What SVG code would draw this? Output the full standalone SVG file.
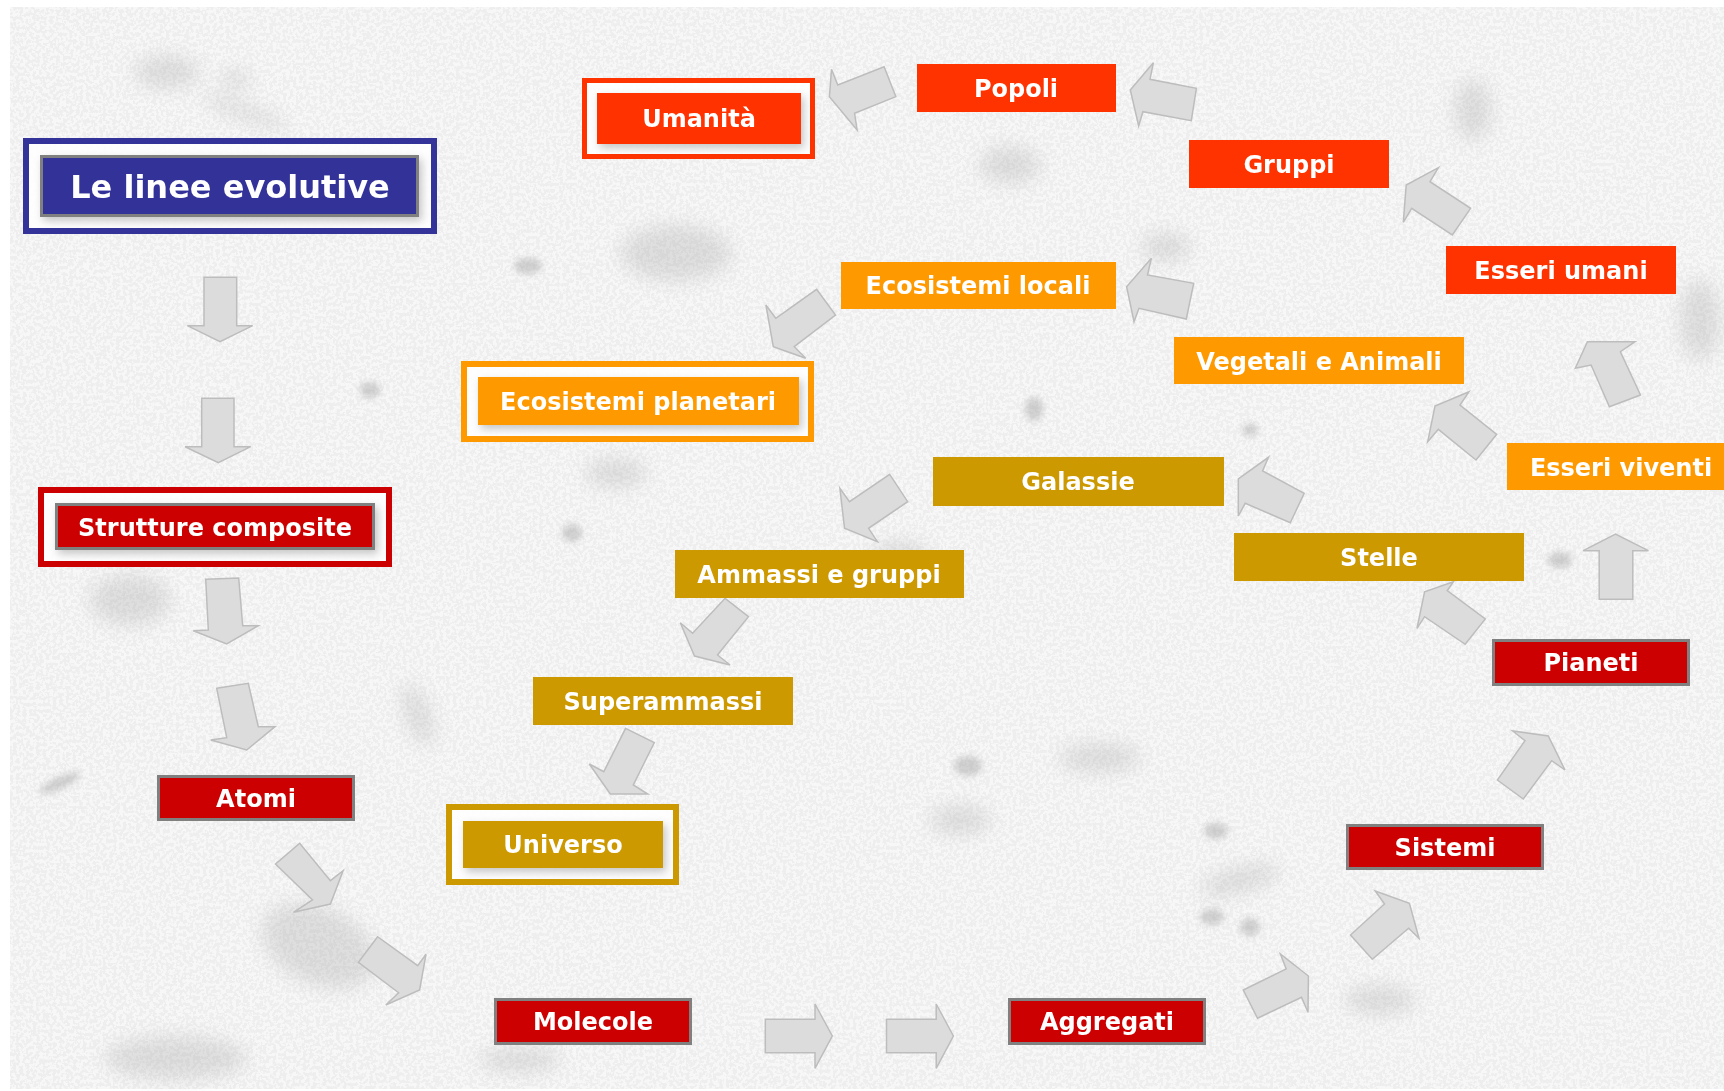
<svg xmlns="http://www.w3.org/2000/svg" width="1724" height="1091" viewBox="0 0 1724 1091">
<defs>
<style>
.lbl{font-family:"DejaVu Sans","Verdana","Liberation Sans",sans-serif;font-weight:bold;font-size:24px;fill:#ffffff;text-anchor:middle}
.ttl{font-size:32px}
.arr{fill:#dcdcdc;stroke:#bdbdbd;stroke-width:1.5;stroke-linejoin:miter}
.red{fill:#cc0000;stroke:#808080;stroke-width:3}
.gold{fill:#cc9900}
.org{fill:#ff9900}
.ored{fill:#ff3300}
.blob{fill:#8a8a8a}
</style>
<filter id="blur" x="-50%" y="-50%" width="200%" height="200%"><feGaussianBlur stdDeviation="9"/></filter>
<filter id="blur2" x="-50%" y="-50%" width="200%" height="200%"><feGaussianBlur stdDeviation="3"/></filter>
<filter id="shadow" x="-10%" y="-20%" width="130%" height="160%"><feDropShadow dx="3" dy="4" stdDeviation="4" flood-color="#000" flood-opacity="0.22"/></filter>
<filter id="speck" x="0" y="0" width="100%" height="100%">
<feTurbulence type="fractalNoise" baseFrequency="0.3" numOctaves="2" seed="7"/>
<feColorMatrix type="matrix" values="0 0 0 0 0.6  0 0 0 0 0.6  0 0 0 0 0.6  0 0 0 -14 7.6"/>
</filter>
</defs>
<rect x="0" y="0" width="1724" height="1091" fill="#ffffff"/>
<g id="background">
<rect x="10" y="7" width="1714" height="1082" fill="#f7f7f7"/>
<rect x="10" y="7" width="1714" height="1082" filter="url(#speck)" opacity="0.18"/>
<g filter="url(#blur)" opacity="0.22">
<ellipse class="blob" cx="167" cy="72" rx="32" ry="16"/>
<ellipse class="blob" cx="236" cy="80" rx="14" ry="9"/>
<ellipse class="blob" cx="245" cy="112" rx="45" ry="7" transform="rotate(20 245 112)"/>
<ellipse class="blob" cx="676" cy="253" rx="55" ry="28"/>
<ellipse class="blob" cx="1166" cy="247" rx="24" ry="14"/>
<ellipse class="blob" cx="1473" cy="110" rx="18" ry="30"/>
<ellipse class="blob" cx="616" cy="473" rx="30" ry="14"/>
<ellipse class="blob" cx="319" cy="946" rx="60" ry="38" transform="rotate(25 319 946)"/>
<ellipse class="blob" cx="176" cy="1058" rx="70" ry="22"/>
<ellipse class="blob" cx="418" cy="715" rx="12" ry="32" transform="rotate(-20 418 715)"/>
<ellipse class="blob" cx="1100" cy="758" rx="40" ry="14"/>
<ellipse class="blob" cx="960" cy="820" rx="30" ry="14"/>
<ellipse class="blob" cx="1700" cy="320" rx="20" ry="40"/>
<ellipse class="blob" cx="1240" cy="880" rx="40" ry="12" transform="rotate(-15 1240 880)"/>
<ellipse class="blob" cx="520" cy="1060" rx="40" ry="12"/>
<ellipse class="blob" cx="1380" cy="1000" rx="35" ry="14"/>
<ellipse class="blob" cx="130" cy="600" rx="40" ry="25"/>
<ellipse class="blob" cx="900" cy="560" rx="30" ry="18"/>
<ellipse class="blob" cx="1010" cy="165" rx="30" ry="18"/>
</g>
<g filter="url(#blur2)" opacity="0.35">
<ellipse class="blob" cx="528" cy="266" rx="14" ry="8"/>
<ellipse class="blob" cx="1034" cy="409" rx="9" ry="12"/>
<ellipse class="blob" cx="572" cy="533" rx="10" ry="9"/>
<ellipse class="blob" cx="968" cy="766" rx="14" ry="10"/>
<ellipse class="blob" cx="1216" cy="831" rx="12" ry="8"/>
<ellipse class="blob" cx="1212" cy="917" rx="12" ry="8"/>
<ellipse class="blob" cx="1250" cy="927" rx="10" ry="9"/>
<ellipse class="blob" cx="60" cy="783" rx="22" ry="6" transform="rotate(-25 60 783)"/>
<ellipse class="blob" cx="370" cy="390" rx="10" ry="8"/>
<ellipse class="blob" cx="1250" cy="430" rx="8" ry="6"/>
<ellipse class="blob" cx="1560" cy="560" rx="12" ry="8"/>
</g>
</g>
<g id="connectors">
<polygon class="arr" points="204,277.3 236.7,277.3 236.7,325.7 252.7,325.7 220,341.7 187.3,325.7 204,325.7"/>
<polygon class="arr" points="201.7,398.3 234,398.3 234,446.7 250.7,446.7 218.3,462.7 185,446.7 201.7,446.7"/>
<polygon class="arr" points="205.7,579.3 238.7,578 242.7,625.7 258.3,625.7 226.7,644 193.3,630.7 208.3,630"/>
<polygon class="arr" points="216.7,688.3 248.3,683.3 258.3,726.7 275,726.7 246.7,750 210.7,740 226.7,737.7"/>
<polygon class="arr" points="299.7,843.3 275.5,864 312.5,900 293.4,912.3 330.4,904 343.1,870.7 330.4,880.7"/>
<polygon class="arr" points="377.6,936.7 358.4,962.3 398.6,992.7 385.8,1005 419.6,990 426,954.3 417.7,965.7"/>
<polygon class="arr" points="765.3,1019.3 815,1019.3 815,1004 832.3,1036 815,1068.3 815,1052.7 765.3,1052.7"/>
<polygon class="arr" points="886.5,1019.3 936.2,1019.3 936.2,1004 953.4,1036 936.2,1068.3 936.2,1052.7 886.5,1052.7"/>
<polygon class="arr" points="1243.3,990 1286.2,969 1280.4,954 1308.4,976 1308,1012.3 1301.5,997.3 1257.5,1018.3"/>
<polygon class="arr" points="1350.5,935 1384.5,904 1375.3,891 1409.4,903.3 1419,938.3 1408.6,928.3 1372.3,959.3"/>
<polygon class="arr" points="1497.3,780 1523.3,799 1551.7,760.7 1565,770 1548.3,736 1512.7,731 1525,740.7"/>
<polygon class="arr" points="1599.2,599.3 1632.8,599.3 1632.8,550.7 1648.4,550.7 1615.5,534 1583.2,550.7 1599.2,550.7"/>
<polygon class="arr" points="1465.2,644.3 1485.3,619 1447.2,590.7 1453.4,581.7 1424.6,591.7 1417,628.3 1424.6,616.7"/>
<polygon class="arr" points="1290.3,522.7 1304.2,493.3 1262.6,471 1268.5,457.3 1238.3,479 1238.3,516 1245.2,503.3"/>
<polygon class="arr" points="1476,460 1496.7,434.3 1460,405 1469,391.7 1435,406 1427.7,441.7 1438.3,429.3"/>
<polygon class="arr" points="1609.4,406.7 1640.5,395 1620.4,351.7 1635,341.7 1587.4,341.7 1575.3,368.3 1591.1,365"/>
<polygon class="arr" points="1452.3,235 1470.6,208.3 1430,181.7 1438.4,167.7 1406.2,185 1403.3,222.3 1411.7,208.3"/>
<polygon class="arr" points="1191.3,120.7 1196.4,88.3 1150,79.3 1153.4,62.7 1130.3,90 1138.7,126 1142.9,111.7"/>
<polygon class="arr" points="895.9,96.7 884.1,66.7 837.8,85 831.5,69.3 829.4,96.7 857.1,130 854.6,113.3"/>
<polygon class="arr" points="1186.3,319 1193.7,283.3 1147.5,275 1151.4,258.3 1126.6,286.7 1134,321.7 1139,308.3"/>
<polygon class="arr" points="816.6,289.3 835.5,315 794.2,346.7 805.7,358.3 773.3,346.7 765.9,305 775.8,318.3"/>
<polygon class="arr" points="889.7,474.3 907.7,501.7 868.6,528.3 877.4,541.7 844.5,528.3 839.9,488.3 849.5,501.7"/>
<polygon class="arr" points="725.1,598.3 748.5,616.7 717.5,655 730.1,665 694.5,656 680.3,622.7 692.6,633.3"/>
<polygon class="arr" points="625.6,728.3 654.3,742.7 633.3,785 647.8,794 610.3,794 589.3,764 603.8,771.7"/>
</g>
<g id="node-title">
<rect x="26" y="141" width="408" height="90" fill="#ffffff" fill-opacity="0.85" stroke="#333399" stroke-width="6"/>
<rect x="41.5" y="156.5" width="376" height="59" fill="#333399" stroke="#808080" stroke-width="3" filter="url(#shadow)"/>
<text class="lbl ttl" x="230" y="198">Le linee evolutive</text>
</g>
<g id="node-strutture">
<rect x="41" y="490" width="348" height="74" fill="#ffffff" fill-opacity="0.85" stroke="#cc0000" stroke-width="6"/>
<rect class="red" x="56.5" y="504.5" width="317" height="44" filter="url(#shadow)"/>
<text class="lbl" x="215" y="536">Strutture composite</text>
</g>
<g id="node-atomi">
<rect class="red" x="158.5" y="776.5" width="195" height="43"/>
<text class="lbl" x="256" y="807">Atomi</text>
</g>
<g id="node-molecole">
<rect class="red" x="495.5" y="999.5" width="195" height="44"/>
<text class="lbl" x="593" y="1030">Molecole</text>
</g>
<g id="node-aggregati">
<rect class="red" x="1009.5" y="999.5" width="195" height="44"/>
<text class="lbl" x="1107" y="1030">Aggregati</text>
</g>
<g id="node-sistemi">
<rect class="red" x="1347.5" y="825.5" width="195" height="43"/>
<text class="lbl" x="1445" y="856">Sistemi</text>
</g>
<g id="node-pianeti">
<rect class="red" x="1493.5" y="640.5" width="195" height="44"/>
<text class="lbl" x="1591" y="671">Pianeti</text>
</g>
<g id="node-stelle">
<rect class="gold" x="1234" y="533" width="290" height="48"/>
<text class="lbl" x="1379" y="566">Stelle</text>
</g>
<g id="node-galassie">
<rect class="gold" x="933" y="457" width="291" height="49"/>
<text class="lbl" x="1078" y="490">Galassie</text>
</g>
<g id="node-ammassi">
<rect class="gold" x="675" y="550" width="289" height="48"/>
<text class="lbl" x="819" y="583">Ammassi e gruppi</text>
</g>
<g id="node-superammassi">
<rect class="gold" x="533" y="677" width="260" height="48"/>
<text class="lbl" x="663" y="710">Superammassi</text>
</g>
<g id="node-universo">
<rect x="449" y="807" width="227" height="75" fill="#ffffff" fill-opacity="0.85" stroke="#cc9900" stroke-width="6"/>
<rect class="gold" x="463" y="821" width="200" height="47" filter="url(#shadow)"/>
<text class="lbl" x="563" y="853">Universo</text>
</g>
<g id="node-esseri-viventi">
<rect class="org" x="1507" y="443" width="228" height="47"/>
<text class="lbl" x="1621" y="476">Esseri viventi</text>
</g>
<g id="node-vegetali">
<rect class="org" x="1174" y="337" width="290" height="47"/>
<text class="lbl" x="1319" y="370">Vegetali e Animali</text>
</g>
<g id="node-ecosistemi-locali">
<rect class="org" x="841" y="262" width="275" height="47"/>
<text class="lbl" x="978" y="294">Ecosistemi locali</text>
</g>
<g id="node-ecosistemi-planetari">
<rect x="464" y="364" width="347" height="75" fill="#ffffff" fill-opacity="0.85" stroke="#ff9900" stroke-width="6"/>
<rect class="org" x="478" y="377" width="321" height="48" filter="url(#shadow)"/>
<text class="lbl" x="638" y="410">Ecosistemi planetari</text>
</g>
<g id="node-esseri-umani">
<rect class="ored" x="1446" y="246" width="230" height="48"/>
<text class="lbl" x="1561" y="279">Esseri umani</text>
</g>
<g id="node-gruppi">
<rect class="ored" x="1189" y="140" width="200" height="48"/>
<text class="lbl" x="1289" y="173">Gruppi</text>
</g>
<g id="node-popoli">
<rect class="ored" x="917" y="64" width="199" height="48"/>
<text class="lbl" x="1016" y="97">Popoli</text>
</g>
<g id="node-umanita">
<rect x="584.5" y="80.5" width="228" height="76" fill="#ffffff" fill-opacity="0.85" stroke="#ff3300" stroke-width="5"/>
<rect class="ored" x="597" y="93" width="204" height="51" filter="url(#shadow)"/>
<text class="lbl" x="699" y="127">Umanità</text>
</g>
</svg>
